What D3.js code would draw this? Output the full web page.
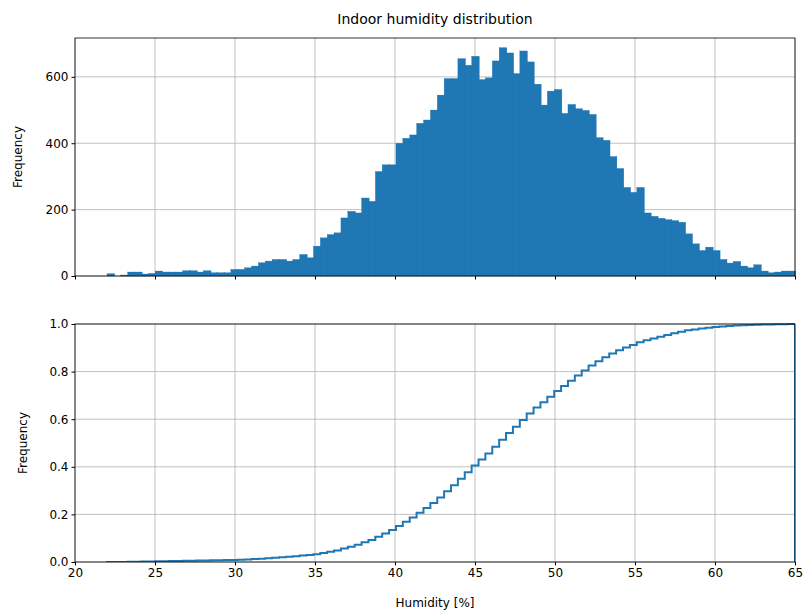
<!DOCTYPE html>
<html>
<head>
<meta charset="utf-8">
<script src="https://cdn.jsdelivr.net/npm/d3@7"></script>
<style>
  body { margin: 0; background: #fff; }
  text { font-family: "DejaVu Sans", sans-serif; }
</style>
</head>
<body>
<script>
// histogram of indoor humidity, 100 bins from 22 to 65
const binStart = 22;
const binEnd = 65;
const counts = [
  7, 0, 3, 12, 12, 6, 8, 15, 12, 12,
  12, 16, 16, 12, 16, 10, 10, 10, 20, 20,
  25, 30, 40, 45, 50, 50, 45, 50, 65, 55,
  90, 115, 125, 130, 175, 195, 190, 235, 225, 315,
  335, 335, 400, 415, 425, 460, 470, 500, 545, 595,
  595, 655, 635, 662, 592, 597, 648, 688, 672, 610,
  678, 645, 578, 515, 557, 562, 490, 517, 504, 499,
  487, 417, 409, 360, 324, 267, 252, 267, 190, 180,
  174, 170, 167, 162, 127, 97, 77, 87, 77, 50,
  39, 44, 30, 25, 34, 15, 10, 12, 15, 15
];
const xTicks = [20, 25, 30, 35, 40, 45, 50, 55, 60, 65];
const topTicks = [0, 200, 400, 600];
const bottomTicks = [0.0, 0.2, 0.4, 0.6, 0.8, 1.0];

const width = 805, height = 611;
const left = 75, right = 795;
const top1 = 38, bot1 = 276;
const top2 = 324, bot2 = 562;
const blue = "#1f77b4";

const svg = d3.select("body").append("svg")
    .attr("width", width)
    .attr("height", height);

const binW = (binEnd - binStart) / counts.length;
const bins = counts.map((c, i) => ({x0: binStart + i * binW, x1: binStart + (i + 1) * binW, c: c}));
const total = d3.sum(counts);
let run = 0;
const cum = bins.map(b => { run += b.c; return {x0: b.x0, x1: b.x1, v: run / total}; });

const x = d3.scaleLinear().domain([20, 65]).range([left, right]);
const y1 = d3.scaleLinear().domain([0, 717]).range([bot1, top1]);
const y2 = d3.scaleLinear().domain([0, 1]).range([bot2, top2]);

function grid(y, ticks, t, b) {
  const g = svg.append("g").attr("stroke", "#b0b0b0").attr("stroke-width", 0.8);
  xTicks.forEach(v => g.append("line").attr("x1", x(v)).attr("x2", x(v)).attr("y1", t).attr("y2", b));
  ticks.forEach(v => g.append("line").attr("x1", left).attr("x2", right).attr("y1", y(v)).attr("y2", y(v)));
}

function axes(y, ticks, t, b, fmt, showX) {
  svg.append("g").attr("transform", `translate(0,${b})`)
    .call(d3.axisBottom(x).tickValues(xTicks).tickSize(3.5).tickPadding(3).tickFormat(showX ? d3.format("d") : ""))
    .call(g => g.select(".domain").remove())
    .selectAll("text").attr("font-size", 12).attr("fill", "#000");
  svg.append("g").attr("transform", `translate(${left},0)`)
    .call(d3.axisLeft(y).tickValues(ticks).tickSize(3.5).tickPadding(3).tickFormat(fmt))
    .call(g => g.select(".domain").remove())
    .selectAll("text").attr("font-size", 12).attr("fill", "#000");
  svg.append("rect").attr("x", left).attr("y", t).attr("width", right - left).attr("height", b - t)
    .attr("fill", "none").attr("stroke", "#000").attr("stroke-width", 0.8);
}

// top: histogram
grid(y1, topTicks, top1, bot1);
svg.append("g").selectAll("rect").data(bins).join("rect")
    .attr("x", d => x(d.x0))
    .attr("width", d => x(d.x1) - x(d.x0) + 0.8)
    .attr("y", d => y1(d.c))
    .attr("height", d => bot1 - y1(d.c))
    .attr("fill", blue)
    .attr("stroke", blue)
    .attr("stroke-width", 0.3);
axes(y1, topTicks, top1, bot1, d3.format("d"), false);

// bottom: cumulative step
grid(y2, bottomTicks, top2, bot2);
const pts = [[binStart, 0]];
cum.forEach(d => { pts.push([d.x0, d.v]); pts.push([d.x1, d.v]); });
pts.push([binEnd, 0]);
svg.append("defs").append("clipPath").attr("id", "c2")
  .append("rect").attr("x", left).attr("y", top2 - 2).attr("width", right - left).attr("height", bot2 - top2 + 2);
svg.append("path")
    .datum(pts)
    .attr("clip-path", "url(#c2)")
    .attr("fill", "none")
    .attr("stroke", blue)
    .attr("stroke-width", 2)
    .attr("d", d3.line().x(d => x(d[0])).y(d => y2(d[1])));
axes(y2, bottomTicks, top2, bot2, d3.format(".1f"), true);

// labels
svg.append("text").attr("x", (left + right) / 2).attr("y", 24).attr("text-anchor", "middle")
    .attr("font-size", 14).text("Indoor humidity distribution");
svg.append("text").attr("transform", `translate(22,${(top1 + bot1) / 2}) rotate(-90)`)
    .attr("text-anchor", "middle").attr("font-size", 12).text("Frequency");
svg.append("text").attr("transform", `translate(27,${(top2 + bot2) / 2}) rotate(-90)`)
    .attr("text-anchor", "middle").attr("font-size", 12).text("Frequency");
svg.append("text").attr("x", (left + right) / 2).attr("y", 607).attr("text-anchor", "middle")
    .attr("font-size", 12).text("Humidity [%]");
</script>
</body>
</html>
